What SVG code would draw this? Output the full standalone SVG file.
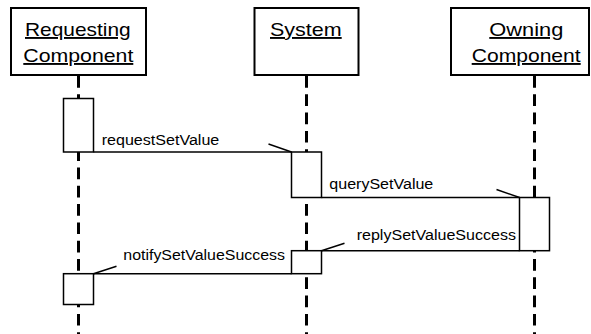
<svg xmlns="http://www.w3.org/2000/svg" width="591" height="334" viewBox="0 0 591 334">
<style>
.hdr{fill:#fff;stroke:#000;stroke-width:2}
.act{fill:#fff;stroke:#000;stroke-width:1.5}
.life{stroke:#000;stroke-width:3;stroke-dasharray:11.7 6.6;fill:none}
.msg{stroke:#000;stroke-width:1.5;fill:none}
.ht{font-family:"Liberation Sans",Arial,Helvetica,sans-serif;font-size:19px;text-decoration:underline;fill:#000}
.mt{font-family:"Liberation Sans",Arial,Helvetica,sans-serif;font-size:14px;fill:#000}
</style>
<defs>
<marker id="halfR" markerUnits="userSpaceOnUse" markerWidth="30" markerHeight="20" refX="28" refY="12" orient="0" overflow="visible">
<path d="M5,4 L28,12" stroke="#000" stroke-width="1.5" fill="none"/>
</marker>
<marker id="halfL" markerUnits="userSpaceOnUse" markerWidth="30" markerHeight="20" refX="2" refY="12" orient="0" overflow="visible">
<path d="M25,4.5 L2,12" stroke="#000" stroke-width="1.5" fill="none"/>
</marker>
</defs>
<g id="lifelines">
<line class="life" x1="78.5" y1="76" x2="78.5" y2="334"/>
<line class="life" x1="306.5" y1="76" x2="306.5" y2="334"/>
<line class="life" x1="534.5" y1="76" x2="534.5" y2="334"/>
</g>
<g id="requesting">
<rect class="hdr" x="11" y="8" width="135" height="67"/>
<text class="ht" x="25" y="36" textLength="105.7" lengthAdjust="spacingAndGlyphs">Requesting</text>
<text class="ht" x="23.3" y="62" textLength="110" lengthAdjust="spacingAndGlyphs">Component</text>
</g>
<g id="system">
<rect class="hdr" x="254.5" y="8" width="104" height="67"/>
<text class="ht" x="270" y="36" textLength="71.7" lengthAdjust="spacingAndGlyphs">System</text>
</g>
<g id="owning">
<rect class="hdr" x="451" y="8" width="138" height="67"/>
<text class="ht" x="489.3" y="36" textLength="74" lengthAdjust="spacingAndGlyphs">Owning</text>
<text class="ht" x="471.7" y="62" textLength="109" lengthAdjust="spacingAndGlyphs">Component</text>
</g>
<g id="activations">
<rect id="act-req-1" class="act" x="63.5" y="98.5" width="30" height="53.5"/>
<rect id="act-sys-1" class="act" x="291.5" y="152" width="30" height="45.5"/>
<rect id="act-own-1" class="act" x="519.5" y="197.5" width="30" height="53.2"/>
<rect id="act-sys-2" class="act" x="291.5" y="250.7" width="30" height="23"/>
<rect id="act-req-2" class="act" x="63.5" y="273.7" width="30" height="30.8"/>
</g>
<g id="connectors">
<line class="msg" x1="93.5" y1="152" x2="291.5" y2="152" marker-end="url(#halfR)"/>
<text class="mt" x="101.7" y="145" textLength="117.6" lengthAdjust="spacingAndGlyphs">requestSetValue</text>
<line class="msg" x1="321.5" y1="197.5" x2="519.5" y2="197.5" marker-end="url(#halfR)"/>
<text class="mt" x="329.3" y="189" textLength="104" lengthAdjust="spacingAndGlyphs">querySetValue</text>
<line class="msg" x1="519.5" y1="250.7" x2="321.5" y2="250.7" marker-end="url(#halfL)"/>
<text class="mt" x="356.7" y="240" textLength="159.3" lengthAdjust="spacingAndGlyphs">replySetValueSuccess</text>
<line class="msg" x1="291.5" y1="273.7" x2="93.5" y2="273.7" marker-end="url(#halfL)"/>
<text class="mt" x="123.3" y="260" textLength="161.7" lengthAdjust="spacingAndGlyphs">notifySetValueSuccess</text>
</g>
</svg>
